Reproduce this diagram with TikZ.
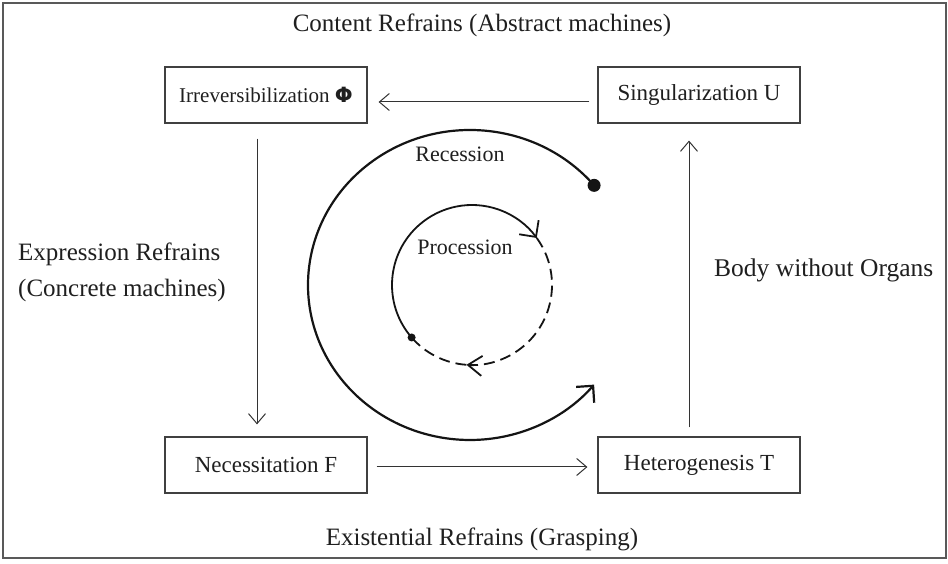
\documentclass[tikz,border=0pt]{standalone}
\usepackage{fontspec}
\setmainfont{Liberation Serif}
\newfontfamily\phifont{DejaVu Sans}
\usetikzlibrary{arrows.meta}
\begin{document}
\begin{tikzpicture}[x=1pt,y=1pt,
  box/.style={draw=black!75, line width=1.2pt, minimum width=202pt, minimum height=56pt,
    inner sep=0pt, font=\fontsize{23}{27}\selectfont, text=black!88},
  lbl/.style={font=\fontsize{25}{30}\selectfont, text=black!88, inner sep=0pt},
  smalllbl/.style={font=\fontsize{22}{26}\selectfont, text=black!88, inner sep=0pt},
  arr/.style={draw=black!80, line width=1pt, -{Straight Barb[length=10pt,width=17pt]}},
  spiral/.style={draw=black!92, line width=2.2pt},
  innerline/.style={draw=black!92, line width=1.8pt},
  dashedline/.style={innerline, dash pattern=on 11pt off 6pt},
  bigtip/.style={-{Straight Barb[length=12pt,width=24pt]}},
  midtip/.style={-{Straight Barb[length=14pt,width=20pt]}}
]
\useasboundingbox (0,0) rectangle (948,564);
\fill[white] (0,0) rectangle (948,564);
\draw[draw=black!65, line width=1.4pt] (3,6) rectangle (946,561);

% boxes
\node[box, font=\fontsize{21}{25}\selectfont] (I) at (266,469) {Irreversibilization {\phifont\bfseries Φ}};
\node[box] (S) at (699,469) {Singularization U};
\node[box] (N) at (266,99) {Necessitation F};
\node[box] (H) at (699,99) {Heterogenesis T};

% square of arrows
\draw[arr, shorten <=8pt, shorten >=11pt] ([yshift=-7pt]S.west) -- ([yshift=-7pt]I.east);
\draw[arr, shorten <=15pt, shorten >=12pt] ([xshift=-9pt]I.south) -- ([xshift=-9pt]N.north);
\draw[arr, shorten <=9pt, shorten >=10pt] ([yshift=-2pt]N.east) -- ([yshift=-2pt]H.west);
\draw[arr, shorten <=9pt, shorten >=17pt] ([xshift=-10pt]H.north) -- ([xshift=-10pt]S.south);

% outer spiral (Recession)
\coordinate (oc) at (470,279);
\path (oc) ++(40:162 and 155) coordinate (rs);
\fill[black!92] (rs) circle[radius=6.5];
\draw[spiral, bigtip] (rs) arc[start angle=40, end angle=320, x radius=162, y radius=155];

% inner circle (Procession)
\coordinate (ic) at (472,279);
\path (ic) ++(221:80) coordinate (ps);
\path (ic) ++(36:80) coordinate (pm);
\path (ic) ++(-94:80) coordinate (pb);
\fill[black!92] (ps) circle[radius=4];
\draw[innerline, bigtip] (ps) arc[start angle=221, end angle=36, radius=80];
\draw[dashedline, midtip] (pm) arc[start angle=36, end angle=-94, radius=80];
\draw[dashedline] (pb) arc[start angle=-94, end angle=-139, radius=80];

% labels
\node[lbl] (title) at (482,539) {Content Refrains (Abstract machines)};
\node[lbl] (exist) at (482,25) {Existential Refrains (Grasping)};
\node[lbl, anchor=base west] (expr) at (18,303) {Expression Refrains};
\node[lbl, anchor=base west] (conc) at (18,267) {(Concrete machines)};
\node[lbl, anchor=base west, font=\fontsize{25.5}{30}\selectfont] (bwo) at (714,287) {Body without Organs};
\node[smalllbl, anchor=base] (rec) at (460,402) {Recession};
\node[smalllbl, anchor=base] (proc) at (465,309) {Procession};
\end{tikzpicture}
\end{document}
